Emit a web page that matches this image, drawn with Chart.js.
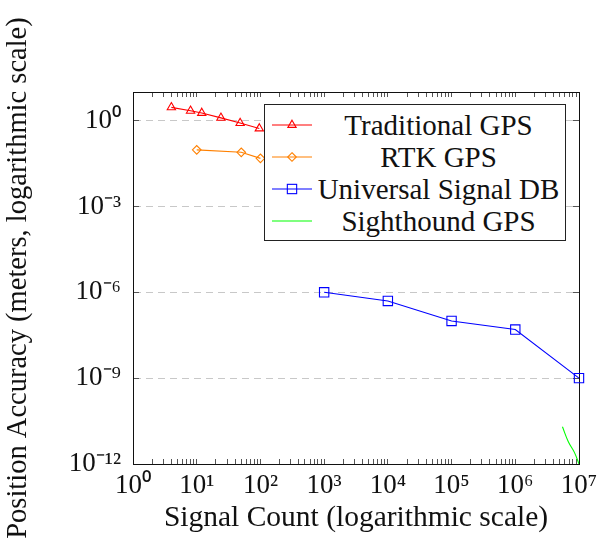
<!DOCTYPE html>
<html>
<head>
<meta charset="utf-8">
<script src="https://cdn.jsdelivr.net/npm/chart.js@4.4.1/dist/chart.umd.min.js"></script>
<style>
  html, body { margin: 0; padding: 0; background: #fff; }
  #wrap { position: relative; width: 597px; height: 542px; }
  #legend {
    position: absolute; left: 264px; top: 104px; width: 302px; height: 137px;
    box-sizing: border-box; border: 1px solid #222; background: #fff;
    padding-top: 4px; font-family: "Liberation Serif", serif; font-size: 29px; color: #111;
  }
  #legend .row { display: flex; align-items: center; height: 32px; }
  #legend svg { flex: none; margin-left: 7px; }
  #legend span { flex: 1; text-align: center; white-space: nowrap; }
</style>
</head>
<body>
<div id="wrap">
  <canvas id="chart" width="597" height="542"></canvas>
  <div id="legend"></div>
</div>
<script>
// values (log-log)
const seriesNames = ["Traditional GPS", "RTK GPS", "Universal Signal DB", "Sighthound GPS"];

const tradCount = [4, 8, 12, 24, 48, 96];
const tradAcc   = [2.9, 2.2, 1.85, 1.25, 0.82, 0.53];

const rtkCount = [10, 50, 100];
const rtkAcc   = [0.095, 0.078, 0.048];

const usdbCount = [1e3, 1e4, 1e5, 1e6, 1e7];
const usdbAcc   = [1e-6, 5e-7, 1e-7, 5e-8, 1e-9];

const shCount = [5.5e6, 6.8e6, 8.5e6, 1e7];
const shAcc   = [2e-11, 6e-12, 2.5e-12, 1e-12];

const xTickExps = [0, 1, 2, 3, 4, 5, 6, 7];
const yTickExps = [-12, -9, -6, -3, 0];

const SUP = {"0":"⁰","1":"¹","2":"²","3":"³","4":"⁴","5":"⁵","6":"⁶","7":"⁷","8":"⁸","9":"⁹","-":"⁻"};
function powLabel(v) {
  const l = Math.log10(v), e = Math.round(l);
  if (Math.abs(l - e) > 1e-6) return "";
  return "10" + String(e).split("").map(c => SUP[c]).join("");
}

// x ticks: every 1..9 x 10^n so the minor marks show
const xTickValues = [];
xTickExps.forEach((e, i) => {
  if (i === xTickExps.length - 1) { xTickValues.push(Math.pow(10, e)); return; }
  for (let m = 1; m <= 9; m++) xTickValues.push(m * Math.pow(10, e));
});
const yTickValues = yTickExps.map(e => Math.pow(10, e));

const pts = (xs, ys) => xs.map((x, i) => ({ x: x, y: ys[i] }));

const FONT = "'Liberation Serif', serif";
const TICK_C = "#555";

const data = {
  datasets: [
    { label: seriesNames[0], data: pts(tradCount, tradAcc), borderColor: "#ff0000",
      pointStyle: "triangle", pointRadius: 4.8, pointBorderColor: "#ff0000", pointBackgroundColor: "rgba(255,255,255,0)",
      borderWidth: 1.1, pointBorderWidth: 1.1, clip: false },
    { label: seriesNames[1], data: pts(rtkCount, rtkAcc), borderColor: "#ff8000",
      pointStyle: "rectRot", pointRadius: 4.3, pointBorderColor: "#ff8000", pointBackgroundColor: "rgba(255,255,255,0)",
      borderWidth: 1.1, pointBorderWidth: 1.1, clip: false },
    { label: seriesNames[2], data: pts(usdbCount, usdbAcc), borderColor: "#0000ff",
      pointStyle: "rect", pointRadius: 6.6, pointBorderColor: "#0000ff", pointBackgroundColor: "rgba(255,255,255,0)",
      borderWidth: 1.1, pointBorderWidth: 1.1, clip: false },
    { label: seriesNames[3], data: pts(shCount, shAcc), borderColor: "#00ff00",
      pointRadius: 0, borderWidth: 1.1, tension: 0.4 }
  ]
};

function xTicksHook(scale) { scale.ticks = xTickValues.map(v => ({ value: v })); }
function yTicksHook(scale) { scale.ticks = yTickValues.map(v => ({ value: v })); }
function noPad(s) { s.paddingLeft = 0; s.paddingRight = 0; s.paddingTop = 0; s.paddingBottom = 0; }

new Chart(document.getElementById("chart"), {
  type: "line",
  data: data,
  options: {
    responsive: false,
    animation: false,
    layout: { padding: { top: 92, right: 18, left: 0, bottom: 0 } },
    plugins: { legend: { display: false }, tooltip: { enabled: false } },
    scales: {
      x: {
        type: "logarithmic", position: "bottom", min: 1, max: 1e7,
        afterBuildTicks: xTicksHook,
        afterFit: s => { s.height = 78; noPad(s); },
        grid: { drawOnChartArea: false, drawTicks: true, tickLength: -5, tickColor: TICK_C },
        border: { display: true, color: "#111", width: 1 },
        ticks: { autoSkip: false, maxRotation: 0, padding: 11, color: "#111",
                 font: { family: FONT, size: 27 }, callback: v => powLabel(v) },
        title: { display: true, text: "Signal Count (logarithmic scale)", color: "#111",
                 font: { family: FONT, size: 29.5 }, padding: { top: 0, bottom: 6 } }
      },
      x2: {
        type: "logarithmic", position: "top", min: 1, max: 1e7,
        afterBuildTicks: xTicksHook,
        afterFit: s => { s.height = 0; noPad(s); },
        grid: { drawOnChartArea: false, drawTicks: true, tickLength: -5, tickColor: TICK_C },
        border: { display: true, color: "#111", width: 1 },
        ticks: { display: false, autoSkip: false }
      },
      y: {
        type: "logarithmic", position: "left", min: 1e-12, max: 10,
        afterBuildTicks: yTicksHook,
        afterFit: s => { s.width = 133; noPad(s); },
        grid: {
          drawOnChartArea: true, drawTicks: true, tickLength: -6, tickColor: TICK_C,
          color: c => (Math.abs(Math.log10(c.tick.value) + 12) < 1e-6 ? "rgba(0,0,0,0)" : "#c8c8c8")
        },
        border: { display: true, color: "#111", width: 1, dash: [7, 5] },
        ticks: { autoSkip: false, padding: 18, color: "#111",
                 font: { family: FONT, size: 27 }, callback: v => powLabel(v) },
        title: { display: true, text: "Position Accuracy (meters, logarithmic scale)", color: "#111",
                 font: { family: FONT, size: 28.5 }, padding: { top: 1, bottom: 0 } }
      },
      y2: {
        type: "logarithmic", position: "right", min: 1e-12, max: 10,
        afterBuildTicks: yTicksHook,
        afterFit: s => { s.width = 0; noPad(s); },
        grid: { drawOnChartArea: false, drawTicks: true, tickLength: -6, tickColor: TICK_C },
        border: { display: true, color: "#111", width: 1 },
        ticks: { display: false, autoSkip: false }
      }
    }
  }
});

// legend box in the upper right, built from the datasets
const legendEl = document.getElementById("legend");
const NS = "http://www.w3.org/2000/svg";
function markerSvg(ds) {
  const svg = document.createElementNS(NS, "svg");
  svg.setAttribute("width", "40"); svg.setAttribute("height", "16");
  const line = document.createElementNS(NS, "line");
  line.setAttribute("x1", "0"); line.setAttribute("x2", "40");
  line.setAttribute("y1", "8"); line.setAttribute("y2", "8");
  line.setAttribute("stroke", ds.borderColor); line.setAttribute("stroke-width", "1.1");
  svg.appendChild(line);
  let shape = null;
  const r = ds.pointRadius;
  if (ds.pointStyle === "triangle") {
    shape = document.createElementNS(NS, "polygon");
    const w = r * Math.sqrt(3) / 2;
    shape.setAttribute("points", `20,${8 - r} ${20 + w},${8 + r / 2} ${20 - w},${8 + r / 2}`);
  } else if (ds.pointStyle === "rectRot") {
    shape = document.createElementNS(NS, "polygon");
    shape.setAttribute("points", `20,${8 - r} ${20 + r},8 20,${8 + r} ${20 - r},8`);
  } else if (ds.pointStyle === "rect") {
    shape = document.createElementNS(NS, "rect");
    const s = r * Math.SQRT1_2;
    shape.setAttribute("x", 20 - s); shape.setAttribute("y", 8 - s);
    shape.setAttribute("width", 2 * s); shape.setAttribute("height", 2 * s);
  }
  if (shape) {
    shape.setAttribute("fill", "none");
    shape.setAttribute("stroke", ds.borderColor);
    shape.setAttribute("stroke-width", "1.1");
    svg.appendChild(shape);
  }
  return svg;
}
data.datasets.forEach(ds => {
  const row = document.createElement("div");
  row.className = "row";
  row.appendChild(markerSvg(ds));
  const span = document.createElement("span");
  span.textContent = ds.label;
  row.appendChild(span);
  legendEl.appendChild(row);
});
</script>
</body>
</html>
